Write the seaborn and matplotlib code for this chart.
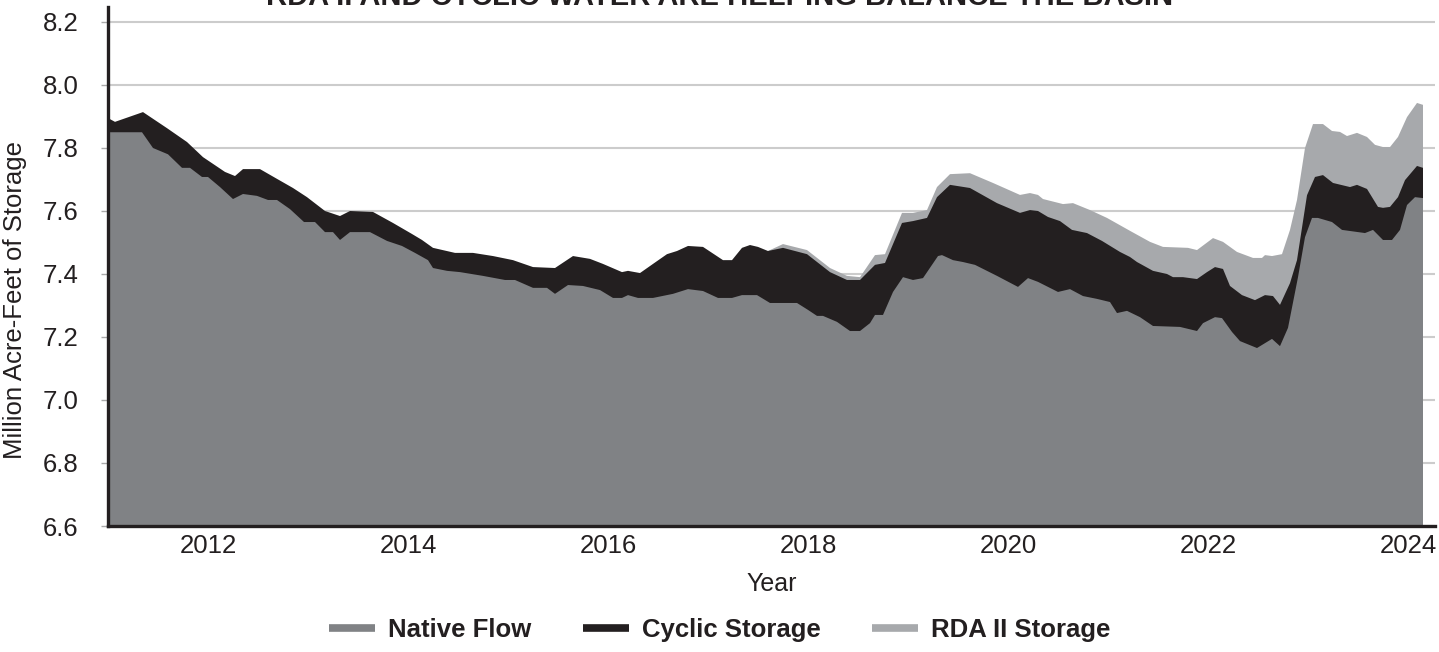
import matplotlib
matplotlib.use("Agg")
import matplotlib.pyplot as plt
from matplotlib.lines import Line2D
import seaborn as sns

# Upper edge of each stacked layer (million acre-feet)
native_years = [2011.00, 2011.34, 2011.45, 2011.60, 2011.74, 2011.82, 2011.94, 2012.00, 2012.12, 2012.25,
                2012.35, 2012.49, 2012.60, 2012.69, 2012.82, 2012.96, 2013.07, 2013.17, 2013.25, 2013.32,
                2013.42, 2013.62, 2013.79, 2013.94, 2014.07, 2014.20, 2014.25, 2014.39, 2014.52, 2014.75,
                2014.97, 2015.07, 2015.25, 2015.39, 2015.47, 2015.60, 2015.75, 2015.92, 2016.05, 2016.14,
                2016.20, 2016.30, 2016.45, 2016.65, 2016.80, 2016.95, 2017.10, 2017.24, 2017.34, 2017.49,
                2017.62, 2017.89, 2018.00, 2018.09, 2018.15, 2018.29, 2018.42, 2018.52, 2018.62, 2018.67,
                2018.75, 2018.85, 2018.95, 2019.05, 2019.15, 2019.30, 2019.34, 2019.45, 2019.55, 2019.67,
                2019.89, 2020.10, 2020.20, 2020.30, 2020.50, 2020.62, 2020.75, 2020.89, 2021.02, 2021.09,
                2021.19, 2021.32, 2021.45, 2021.72, 2021.89, 2021.95, 2022.07, 2022.14, 2022.24, 2022.32,
                2022.49, 2022.64, 2022.72, 2022.80, 2022.90, 2022.97, 2023.04, 2023.10, 2023.24, 2023.34,
                2023.57, 2023.65, 2023.75, 2023.84, 2023.92, 2023.99, 2024.07, 2024.15]
native_top = [7.850, 7.850, 7.800, 7.780, 7.737, 7.737, 7.708, 7.708, 7.676, 7.638,
              7.654, 7.648, 7.635, 7.635, 7.606, 7.565, 7.565, 7.533, 7.533, 7.508,
              7.533, 7.533, 7.505, 7.489, 7.467, 7.444, 7.419, 7.410, 7.406, 7.394,
              7.381, 7.381, 7.356, 7.356, 7.337, 7.365, 7.362, 7.349, 7.324, 7.324,
              7.333, 7.324, 7.324, 7.337, 7.352, 7.346, 7.324, 7.324, 7.333, 7.333,
              7.308, 7.308, 7.286, 7.267, 7.267, 7.248, 7.219, 7.219, 7.244, 7.270,
              7.270, 7.343, 7.390, 7.381, 7.387, 7.457, 7.460, 7.444, 7.438, 7.429,
              7.394, 7.359, 7.387, 7.375, 7.343, 7.352, 7.330, 7.321, 7.311, 7.276,
              7.283, 7.263, 7.235, 7.232, 7.219, 7.244, 7.263, 7.260, 7.216, 7.187,
              7.165, 7.194, 7.171, 7.229, 7.390, 7.517, 7.578, 7.578, 7.565, 7.540,
              7.530, 7.540, 7.508, 7.508, 7.540, 7.619, 7.644, 7.641]

# native flow + cyclic storage
cyclic_years = [2011.00, 2011.07, 2011.35, 2011.59, 2011.79, 2011.95, 2012.17, 2012.27, 2012.35, 2012.52,
                2012.69, 2012.85, 2012.99, 2013.17, 2013.32, 2013.42, 2013.65, 2013.85, 2014.04, 2014.14,
                2014.25, 2014.47, 2014.65, 2014.85, 2015.05, 2015.25, 2015.47, 2015.65, 2015.82, 2015.95,
                2016.14, 2016.20, 2016.32, 2016.45, 2016.59, 2016.69, 2016.80, 2016.95, 2017.15, 2017.24,
                2017.34, 2017.42, 2017.50, 2017.60, 2017.75, 2017.99, 2018.22, 2018.39, 2018.52, 2018.67,
                2018.77, 2018.94, 2019.05, 2019.19, 2019.29, 2019.42, 2019.62, 2019.89, 2020.12, 2020.22,
                2020.30, 2020.40, 2020.52, 2020.64, 2020.79, 2020.94, 2021.12, 2021.22, 2021.29, 2021.45,
                2021.59, 2021.65, 2021.75, 2021.89, 2021.99, 2022.07, 2022.15, 2022.22, 2022.34, 2022.47,
                2022.57, 2022.65, 2022.72, 2022.82, 2022.89, 2022.99, 2023.07, 2023.15, 2023.25, 2023.42,
                2023.49, 2023.59, 2023.70, 2023.75, 2023.82, 2023.90, 2023.97, 2024.09, 2024.15]
cyclic_top = [7.895, 7.883, 7.914, 7.863, 7.819, 7.771, 7.724, 7.711, 7.733, 7.733,
              7.702, 7.673, 7.644, 7.600, 7.584, 7.600, 7.597, 7.562, 7.527, 7.508,
              7.483, 7.467, 7.467, 7.457, 7.444, 7.422, 7.419, 7.457, 7.448, 7.432,
              7.406, 7.410, 7.403, 7.432, 7.463, 7.473, 7.489, 7.486, 7.444, 7.444,
              7.483, 7.492, 7.486, 7.473, 7.483, 7.463, 7.406, 7.381, 7.381, 7.429,
              7.435, 7.562, 7.568, 7.578, 7.644, 7.683, 7.673, 7.625, 7.594, 7.603,
              7.600, 7.581, 7.568, 7.540, 7.530, 7.505, 7.470, 7.454, 7.438, 7.410,
              7.400, 7.390, 7.390, 7.384, 7.406, 7.422, 7.416, 7.362, 7.333, 7.317,
              7.333, 7.330, 7.302, 7.371, 7.444, 7.650, 7.708, 7.714, 7.689, 7.676,
              7.683, 7.670, 7.613, 7.610, 7.613, 7.644, 7.698, 7.743, 7.737]

# native flow + cyclic storage + RDA II storage (RDA II starts late 2017)
rda_years = [2017.60, 2017.75, 2017.99, 2018.22, 2018.39, 2018.52, 2018.67, 2018.77, 2018.94, 2019.05,
             2019.19, 2019.29, 2019.42, 2019.62, 2019.85, 2020.12, 2020.22, 2020.30, 2020.35, 2020.55,
             2020.65, 2020.82, 2020.99, 2021.22, 2021.42, 2021.55, 2021.80, 2021.89, 2022.05, 2022.15,
             2022.29, 2022.45, 2022.54, 2022.57, 2022.64, 2022.74, 2022.82, 2022.89, 2022.97, 2023.05,
             2023.15, 2023.24, 2023.32, 2023.39, 2023.49, 2023.59, 2023.67, 2023.75, 2023.82, 2023.90,
             2023.99, 2024.09, 2024.15]
rda_top = [7.473, 7.495, 7.476, 7.419, 7.394, 7.390, 7.460, 7.463, 7.594, 7.594,
           7.603, 7.676, 7.717, 7.720, 7.689, 7.651, 7.657, 7.651, 7.638, 7.622,
           7.625, 7.603, 7.578, 7.537, 7.502, 7.486, 7.483, 7.476, 7.514, 7.502,
           7.470, 7.451, 7.451, 7.460, 7.457, 7.463, 7.540, 7.635, 7.800, 7.876,
           7.876, 7.854, 7.851, 7.838, 7.848, 7.835, 7.810, 7.803, 7.803, 7.835,
           7.898, 7.943, 7.937]

series_labels = ["Native Flow", "Cyclic Storage", "RDA II Storage"]
series_colors = ["#808285", "#231f20", "#a7a9ac"]
year_ticks = [2012, 2014, 2016, 2018, 2020, 2022, 2024]
y_ticks = [6.6, 6.8, 7.0, 7.2, 7.4, 7.6, 7.8, 8.0, 8.2]
title = "RDA II AND CYCLIC WATER ARE HELPING BALANCE THE BASIN"

sns.set_theme(style="whitegrid")
plt.rcParams['font.family'] = ['Liberation Sans', 'DejaVu Sans']
ink = "#231f20"

fig = plt.figure(figsize=(14.39, 6.52), dpi=100)
ax = fig.add_axes([108 / 1439, 126 / 652, 1327 / 1439, 519 / 652])

# stacked layers drawn back to front
ax.fill_between(rda_years, 0, rda_top, color=series_colors[2], lw=0, zorder=2)
ax.fill_between(cyclic_years, 0, cyclic_top, color=series_colors[1], lw=0, zorder=3)
ax.fill_between(native_years, 0, native_top, color=series_colors[0], lw=0, zorder=4)

ax.set_xlim(2011.0, 2024.27)
ax.set_ylim(6.6, 8.2476)
ax.set_xticks(year_ticks)
ax.set_xticklabels([str(y) for y in year_ticks])
ax.set_yticks(y_ticks)
ax.set_yticklabels([f"{v:.1f}" for v in y_ticks])

ax.grid(False)
ax.yaxis.grid(True, color="#cccccc", lw=1.5, zorder=1)
ax.set_axisbelow(True)
ax.set_facecolor("white")
for s in ["top", "right"]:
    ax.spines[s].set_visible(False)
for s in ["left", "bottom"]:
    ax.spines[s].set_color(ink)
    ax.spines[s].set_linewidth(2.4)
    ax.spines[s].set_zorder(6)

ax.tick_params(axis="y", length=5, width=1, color="#aaaaaa", pad=16, labelsize=18.5, labelcolor=ink, left=True)
ax.tick_params(axis="x", length=0, pad=6, labelsize=18.5, labelcolor=ink)

ax.set_xlabel("Year", fontsize=18, color=ink, labelpad=10)
ax.set_ylabel("")
fig.text(15 / 1439, 1 - 300 / 652, "Million Acre-Feet of Storage", rotation=90,
         ha="center", va="center", fontsize=18.5, color=ink)

# title sits at the very top edge, as in the original
fig.text(0.5, 1 - 5 / 652, title, ha="center", va="baseline",
         fontsize=21, fontweight="bold", color=ink)

handles = [Line2D([0], [0], color=c, lw=5.5, solid_capstyle="butt") for c in series_colors]
fig.legend(handles, series_labels, loc="center", bbox_to_anchor=(0.5, 1 - 630 / 652), ncol=3,
           frameon=False, handlelength=1.8, handletextpad=0.5, columnspacing=2.0,
           prop={"size": 18.5, "weight": "bold"}, labelcolor=ink)

fig.savefig("out.png", dpi=100, facecolor="white")
